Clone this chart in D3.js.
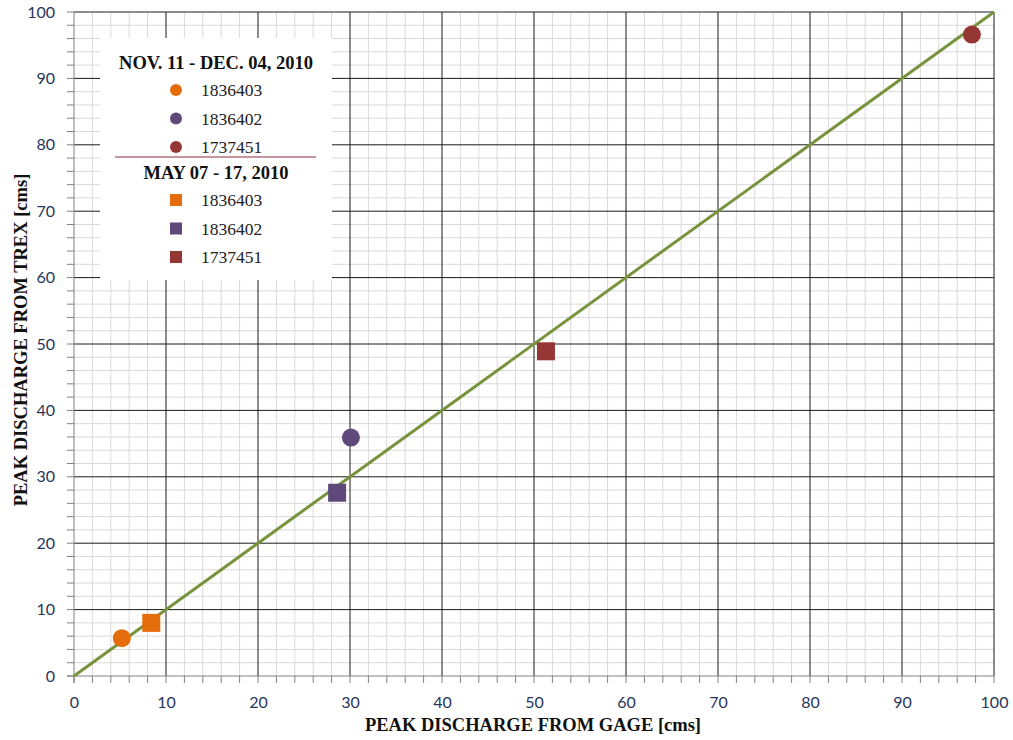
<!DOCTYPE html>
<html>
<head>
<meta charset="utf-8">
<script src="https://cdn.jsdelivr.net/npm/d3@7"></script>
<style>
  body { margin: 0; background: #fff; }
  svg { display: block; }
</style>
</head>
<body>
<div id="chart"></div>
<script>
// Data
const stations = ["1836403", "1836402", "1737451"];
const colors = ["#E46C0A", "#5F497A", "#953735"];
const periods = ["NOV. 11 - DEC. 04, 2010", "MAY 07 - 17, 2010"];
// peak discharge from gage (x) and from TREX (y), one value per station
const novGage = [5.2, 30.1, 97.6];
const novTrex = [5.7, 35.9, 96.6];
const mayGage = [8.4, 28.6, 51.3];
const mayTrex = [8.0, 27.6, 48.9];
const ticks = [0, 10, 20, 30, 40, 50, 60, 70, 80, 90, 100];
const lineData = [0, 100];

const W = 1013, H = 740;
const margin = {top: 12, right: 19, bottom: 64, left: 74};
const width = W - margin.left - margin.right,
      height = H - margin.top - margin.bottom;

const svg = d3.select("#chart").append("svg")
    .attr("width", W)
    .attr("height", H);

const g = svg.append("g")
    .attr("transform", `translate(${margin.left},${margin.top})`);

const x = d3.scaleLinear().domain([0, 100]).range([0, width]);
const y = d3.scaleLinear().domain([0, 100]).range([height, 0]);

const minor = d3.range(0, 101, 2).filter(d => d % 10 !== 0);

// minor grid
g.selectAll(".vminor").data(minor).enter().append("line")
    .attr("x1", d => x(d)).attr("x2", d => x(d))
    .attr("y1", 0).attr("y2", height)
    .attr("stroke", "#D9D9D9").attr("stroke-width", 1);
g.selectAll(".hminor").data(minor).enter().append("line")
    .attr("x1", 0).attr("x2", width)
    .attr("y1", d => y(d)).attr("y2", d => y(d))
    .attr("stroke", "#D9D9D9").attr("stroke-width", 1);

// tick marks outside the axes (every 2 units)
const allTicks = d3.range(0, 101, 2);
g.selectAll(".vtick").data(allTicks).enter().append("line")
    .attr("x1", d => x(d)).attr("x2", d => x(d))
    .attr("y1", height).attr("y2", height + 7)
    .attr("stroke", "#808080");
g.selectAll(".htick").data(allTicks).enter().append("line")
    .attr("x1", -7).attr("x2", 0)
    .attr("y1", d => y(d)).attr("y2", d => y(d))
    .attr("stroke", "#808080");

// major grid
g.selectAll(".vmajor").data(ticks.slice(1)).enter().append("line")
    .attr("x1", d => x(d)).attr("x2", d => x(d))
    .attr("y1", 0).attr("y2", height)
    .attr("stroke", "#1a1a1a").attr("stroke-width", 1);
g.selectAll(".hmajor").data(ticks.slice(1)).enter().append("line")
    .attr("x1", 0).attr("x2", width)
    .attr("y1", d => y(d)).attr("y2", d => y(d))
    .attr("stroke", "#1a1a1a").attr("stroke-width", 1);

// axes (labels only, lines drawn by hand below)
g.append("g")
    .attr("transform", `translate(0,${height})`)
    .call(d3.axisBottom(x).tickValues(ticks).tickSize(0).tickPadding(21));
g.append("g")
    .call(d3.axisLeft(y).tickValues(ticks).tickSize(0).tickPadding(19));
g.selectAll(".domain").remove();
g.selectAll(".tick text")
    .style("font-family", "Lato, 'Open Sans', sans-serif")
    .style("font-size", "16px")
    .style("fill", "#26365A");

g.append("line")
    .attr("x1", -7).attr("x2", width)
    .attr("y1", height).attr("y2", height)
    .attr("stroke", "#808080");
g.append("line")
    .attr("x1", 0).attr("x2", 0)
    .attr("y1", 0).attr("y2", height + 7)
    .attr("stroke", "#808080");

// 1:1 line
g.append("path")
    .datum(lineData)
    .attr("fill", "none")
    .attr("stroke", "#77933C")
    .attr("stroke-width", 3)
    .attr("d", d3.line().x(d => x(d)).y(d => y(d)));

// points
const novPts = stations.map((s, i) => ({s, gx: novGage[i], ty: novTrex[i], c: colors[i]}));
const mayPts = stations.map((s, i) => ({s, gx: mayGage[i], ty: mayTrex[i], c: colors[i]}));

g.selectAll(".sq").data(mayPts).enter().append("rect")
    .attr("x", d => x(d.gx) - 9).attr("y", d => y(d.ty) - 9)
    .attr("width", 18).attr("height", 18)
    .attr("fill", d => d.c);
g.selectAll(".dot").data(novPts).enter().append("circle")
    .attr("cx", d => x(d.gx)).attr("cy", d => y(d.ty))
    .attr("r", 9)
    .attr("fill", d => d.c);

// axis titles
svg.append("text")
    .attr("x", margin.left + width / 2 - 1).attr("y", 731)
    .attr("text-anchor", "middle")
    .style("font-family", "'Liberation Serif', serif")
    .style("font-weight", "bold")
    .style("font-size", "18.5px")
    .style("fill", "#111")
    .text("PEAK DISCHARGE FROM GAGE [cms]");
svg.append("text")
    .attr("transform", `translate(27,${margin.top + height / 2 - 4}) rotate(-90)`)
    .attr("text-anchor", "middle")
    .style("font-family", "'Liberation Serif', serif")
    .style("font-weight", "bold")
    .style("font-size", "18.5px")
    .style("fill", "#111")
    .text("PEAK DISCHARGE FROM TREX [cms]");

// legend
const leg = svg.append("g");
leg.append("rect")
    .attr("x", 100).attr("y", 38)
    .attr("width", 232).attr("height", 242)
    .attr("fill", "#fff");

const legFont = "'Liberation Serif', serif";
function legendBlock(title, ty, shape) {
    leg.append("text")
        .attr("x", 216).attr("y", ty)
        .attr("text-anchor", "middle")
        .style("font-family", legFont)
        .style("font-weight", "bold")
        .style("font-size", "18.5px")
        .style("fill", "#111")
        .text(title);
    stations.forEach((s, i) => {
        const cy = ty + 21 + i * 28.5;
        if (shape === "circle") {
            leg.append("circle").attr("cx", 176).attr("cy", cy).attr("r", 6).attr("fill", colors[i]);
        } else {
            leg.append("rect").attr("x", 170).attr("y", cy - 6).attr("width", 12).attr("height", 12).attr("fill", colors[i]);
        }
        leg.append("text")
            .attr("x", 201).attr("y", cy + 6)
            .style("font-family", legFont)
            .style("font-size", "17.5px")
            .style("fill", "#222")
            .text(s);
    });
}
legendBlock(periods[0], 69, "circle");
leg.append("line")
    .attr("x1", 115).attr("x2", 316)
    .attr("y1", 157).attr("y2", 157)
    .attr("stroke", "#8B2E3C").attr("stroke-width", 1.2);
legendBlock(periods[1], 179, "square");
</script>
</body>
</html>
